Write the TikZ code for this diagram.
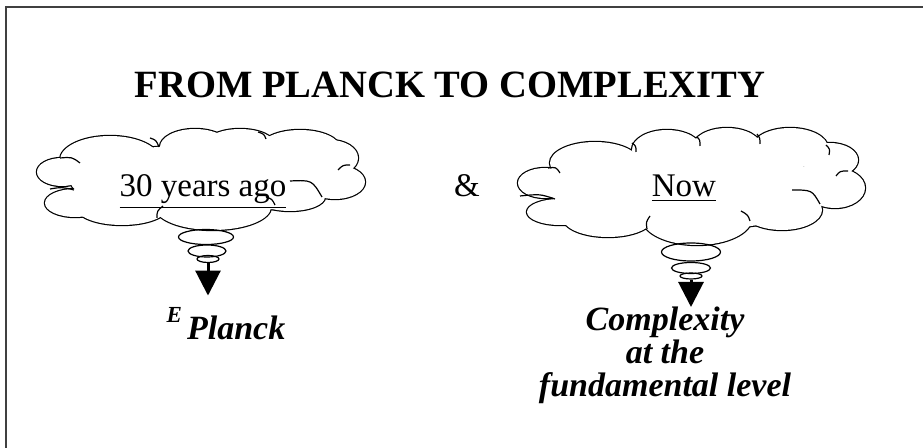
\documentclass[tikz,border=0pt]{standalone}
\usepackage{fontspec}
\setmainfont{Liberation Serif}
\usetikzlibrary{shapes}
\usetikzlibrary{arrows.meta}
\tikzstyle{PuffLine}=[draw=black, line width=1.2pt]
\tikzstyle{PuffFill}=[fill=white]
\tikzstyle{Curl}=[draw=black, line width=0.6pt]
\tikzstyle{Bubble}=[ellipse, draw=black, line width=0.6pt, inner sep=0pt]
\tikzstyle{CloudText}=[font=\fontsize{16.5}{18}\selectfont, anchor=base]
\tikzstyle{ResultText}=[font=\fontsize{17}{17}\selectfont\bfseries\itshape, align=center, inner sep=0pt]
\tikzstyle{PointEdge}=[-{Triangle[length=12.5pt, width=12.5pt]}, line width=1.5pt]

\begin{document}
\begin{tikzpicture}[x=0.5pt, y=-0.5pt]
\useasboundingbox (0,0) rectangle (923,448);
\draw[line width=1pt, black!75] (923,7.5) -- (5.5,7.5) -- (5.5,448);

\node[font=\fontsize{19.3}{20}\selectfont\bfseries, anchor=base](Title) at (450,98) {FROM PLANCK TO COMPLEXITY};

% clouds: union of puffs, outline drawn thick then filled white
\foreach \cx/\cy/\rx/\ry in {62/172/25/14, 75/203/30/14, 122/208/45/17, 213/207/58/23, 290/197/35/14,
  335/182/30/17, 330/158/28/18, 300/148/40/18, 240/145/35/16, 195/147/35/18, 110/160/50/24, 200/180/130/35,
  545/183/27/15, 560/212/33/13, 608/218/45/19, 697/218/55/27, 782/210/40/20, 835/188/30/20,
  830/160/28/17, 790/148/38/20, 727/148/35/20, 667/150/35/20, 595/163/45/21, 690/190/140/40}
  \path[PuffLine] (\cx,\cy) ellipse [x radius=\rx, y radius=\ry];
\foreach \cx/\cy/\rx/\ry in {62/172/25/14, 75/203/30/14, 122/208/45/17, 213/207/58/23, 290/197/35/14,
  335/182/30/17, 330/158/28/18, 300/148/40/18, 240/145/35/16, 195/147/35/18, 110/160/50/24, 200/180/130/35,
  545/183/27/15, 560/212/33/13, 608/218/45/19, 697/218/55/27, 782/210/40/20, 835/188/30/20,
  830/160/28/17, 790/148/38/20, 727/148/35/20, 667/150/35/20, 595/163/45/21, 690/190/140/40}
  \path[PuffFill] (\cx,\cy) ellipse [x radius=\rx, y radius=\ry];

% little curls where the puffs meet
\foreach \ax/\ay/\kx/\ky/\bx/\by in {60/158/72/157/80/163, 50/189/62/187/74/190, 150/138/156/140/159/147,
  258/132/264/134/266/139, 350/165/343/165/338/170, 290/181/312/180/322/197, 157/218/157/211/163/206,
  275/205/272/199/266/197,
  548/168/556/167/560/173, 520/196/540/194/555/199, 632/143/636/146/636/152, 697/137/700/140/700/146,
  757/134/760/138/760/144, 826/145/830/149/829/155, 848/171/840/171/836/176, 792/190/812/190/820/204,
  647/229/646/222/650/216, 750/221/748/215/741/211}
  \draw[Curl] (\ax,\ay) .. controls (\kx,\ky) .. (\bx,\by);

\node[CloudText](PastText) at (203,197) {\underline{30 years ago}};
\node[CloudText](NowText) at (684,197) {\underline{Now}};
\node[CloudText](And) at (467,197) {\&};

\node[Bubble, minimum width=27.5pt, minimum height=7.5pt](PastBubA) at (206,237) {};
\node[Bubble, minimum width=19pt, minimum height=6pt](PastBubB) at (207,251) {};
\node[Bubble, minimum width=11pt, minimum height=3.5pt](PastBubC) at (208,259) {};
\node[Bubble, minimum width=29.5pt, minimum height=9pt](NowBubA) at (691,252) {};
\node[Bubble, minimum width=19.5pt, minimum height=5.5pt](NowBubB) at (691,268) {};
\node[Bubble, minimum width=11pt, minimum height=3pt](NowBubC) at (691,276) {};

\node[ResultText, anchor=base](PastLabel) at (226,340) {\raisebox{8.5pt}{\fontsize{11.5}{12}\selectfont E}\kern2.5pt Planck};
\node[ResultText, anchor=north](NowLabel) at (665,307) {Complexity\\[-0.5pt] at the\\[-0.5pt] fundamental level};

\draw[PointEdge, shorten >=6pt](PastBubC.south) -- (PastBubC.south |- PastLabel.north);
\draw[PointEdge](NowBubC.south) -- (NowBubC.south |- NowLabel.north);
\end{tikzpicture}
\end{document}
